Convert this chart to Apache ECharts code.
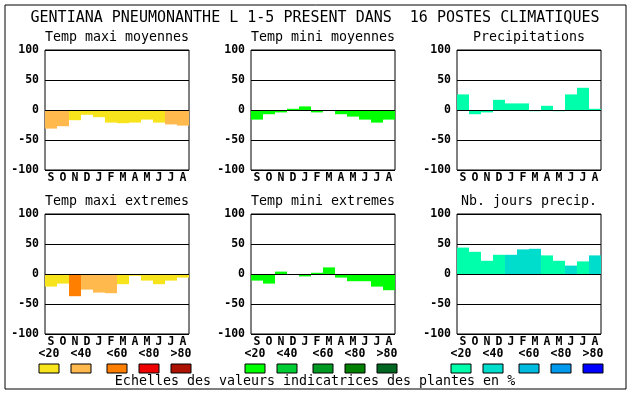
<!DOCTYPE html>
<html><head><meta charset="utf-8">
<script src="https://cdn.jsdelivr.net/npm/echarts@6/dist/echarts.min.js"></script>
<style>html,body{margin:0;padding:0;background:#fff}#c{width:630px;height:394px}</style>
</head><body><div id="c"></div>
<script>
const months = ['S','O','N','D','J','F','M','A','M','J','J','A'];
const yTicks = [100, 50, 0, -50, -100];
const mainTitle = 'GENTIANA PNEUMONANTHE L 1-5 PRESENT DANS  16 POSTES CLIMATIQUES';
const panelTitles = ['Temp maxi moyennes','Temp mini moyennes','Precipitations','Temp maxi extremes','Temp mini extremes','Nb. jours precip.'];
const tmaxMoy = [-31,-27,-17,-8,-12,-21,-22,-21,-16,-21,-24,-26];
const tmaxMoyCls = [1,1,0,0,0,0,0,0,0,0,1,1];
const tminMoy = [-16,-7,-4,2,6,-4,0,-7,-11,-16,-21,-16];
const tminMoyCls = [0,0,0,0,0,0,0,0,0,0,0,0];
const precip = [26,-7,-4,17,11,11,-2,7,-2,26,37,2];
const precipCls = [0,0,0,0,0,0,0,0,0,0,0,0];
const tmaxExt = [-21,-16,-37,-26,-31,-32,-17,-3,-11,-17,-11,-6];
const tmaxExtCls = [0,0,2,1,1,1,0,0,0,0,0,0];
const tminExt = [-11,-16,4,0,-4,2,11,-6,-12,-12,-21,-27];
const tminExtCls = [0,0,0,0,0,0,0,0,0,0,0,0];
const nbJours = [44,37,22,32,32,41,42,31,22,14,21,31];
const nbJoursCls = [0,0,0,0,1,1,1,0,0,1,0,1];
const legendLabels = ['<20','<40','<60','<80','>80'];
const scaleText = 'Echelles des valeurs indicatrices des plantes en %';
const warm = ['#f8e41c','#ffb94d','#ff7f00','#ee0000','#ad1100'];
const green = ['#00ff00','#00cc33','#009922','#007f00','#006622'];
const blue = ['#00ffaa','#00ddcc','#00bbe0','#0099ee','#0000ff'];

const panels = [
  {v:tmaxMoy, c:tmaxMoyCls, p:warm},
  {v:tminMoy, c:tminMoyCls, p:green},
  {v:precip, c:precipCls, p:blue},
  {v:tmaxExt, c:tmaxExtCls, p:warm},
  {v:tminExt, c:tminExtCls, p:green},
  {v:nbJours, c:nbJoursCls, p:blue}
];
const colX = [45,251,457], rowY = [50,214], W = 144, H = 120;
const mono = 'DejaVu Sans Mono';
const grid = [], xAxis = [], yAxis = [], series = [], graphic = [];
panels.forEach((pn,i)=>{
  const col = i%3, row = Math.floor(i/3);
  grid.push({left:colX[col], top:rowY[row], width:W, height:H, show:true, borderColor:'#000', borderWidth:1, backgroundColor:'#fff', containLabel:false});
  xAxis.push({type:'category', gridIndex:i, data:months, axisLine:{show:false}, axisTick:{show:false},
    axisLabel:{interval:0, margin:2, color:'#000', fontFamily:mono, fontWeight:'bold', fontSize:11.5}, splitLine:{show:false}});
  yAxis.push({type:'value', gridIndex:i, min:-100, max:100, interval:50, z:10,
    axisLine:{show:false}, axisTick:{show:false},
    axisLabel:{margin:6, color:'#000', fontFamily:mono, fontWeight:'bold', fontSize:11.5},
    splitLine:{show:true, lineStyle:{color:'#000', width:1}}});
  series.push({type:'bar', xAxisIndex:i, yAxisIndex:i, barCategoryGap:'0%', barGap:'0%', animation:false,
    data: pn.v.map((v,k)=>({value:v, itemStyle:{color:pn.p[pn.c[k]]}}))});
  graphic.push({type:'text', x:colX[col]+W/2, y:rowY[row]-12, style:{text:panelTitles[i], fill:'#000', font:'13.3px "DejaVu Sans Mono"', textAlign:'center', textVerticalAlign:'middle'}});
});
graphic.push({type:'rect', shape:{x:5, y:5, width:621, height:384}, style:{fill:'none', stroke:'#000', lineWidth:1}, z:-1});
graphic.push({type:'text', x:315, y:18, style:{text:mainTitle, fill:'#000', font:'15px "DejaVu Sans Mono"', textAlign:'center', textVerticalAlign:'middle'}});
const offs = [0,32,68,100,132];
const pals = [warm, green, blue];
[39,245,451].forEach((gx,g)=>{
  offs.forEach((o,k)=>{
    graphic.push({type:'text', x:gx+o+10, y:354, style:{text:legendLabels[k], fill:'#000', font:'bold 11.5px "DejaVu Sans Mono"', textAlign:'center', textVerticalAlign:'middle'}});
    graphic.push({type:'rect', shape:{x:gx+o, y:364, width:20, height:9}, style:{fill:pals[g][k], stroke:'#000', lineWidth:1}});
  });
});
graphic.push({type:'text', x:315, y:382, style:{text:scaleText, fill:'#000', font:'13.3px "DejaVu Sans Mono"', textAlign:'center', textVerticalAlign:'middle'}});

const chart = echarts.init(document.getElementById('c'), null, {renderer:'canvas'});
chart.setOption({animation:false, backgroundColor:'#fff', grid, xAxis, yAxis, series, graphic});
</script></body></html>
